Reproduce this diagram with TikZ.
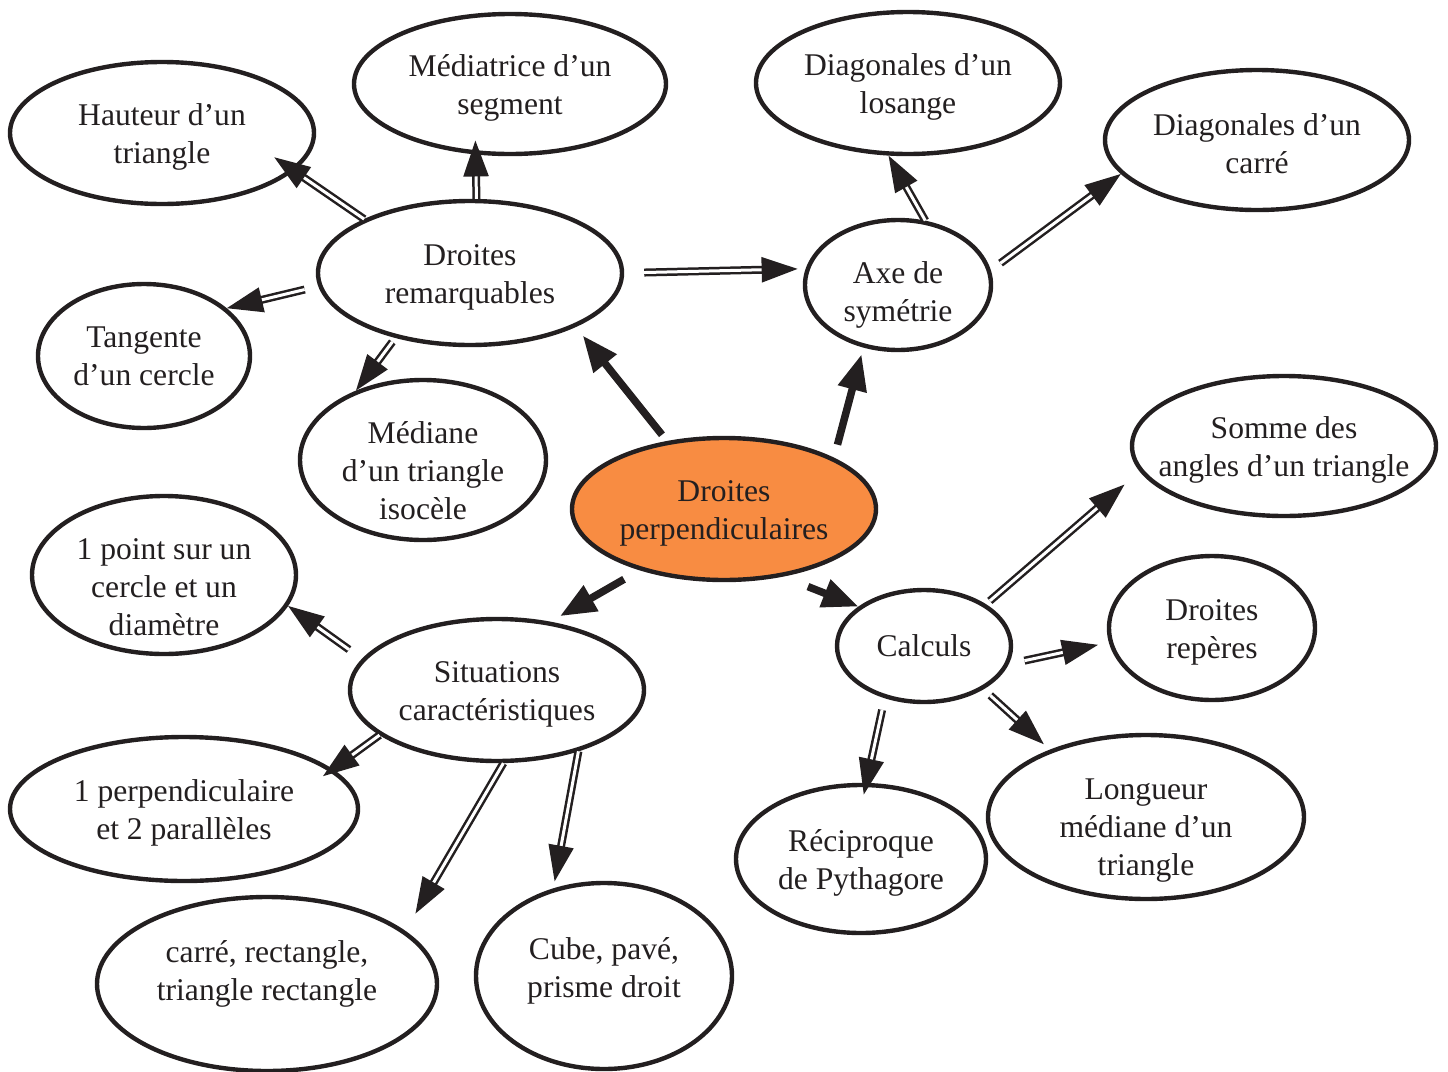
\documentclass[tikz,border=0pt]{standalone}
\usepackage{fontspec}
\setmainfont{Liberation Serif}
\usetikzlibrary{shapes.geometric,arrows.meta}
\definecolor{encre}{RGB}{35,31,32}
\definecolor{orangecarte}{RGB}{248,140,66}
\newcommand{\cale}{\rule{0pt}{15pt}}
\tikzset{
  bulle/.style 2 args={ellipse,draw=encre,line width=2.2pt,inner xsep=-40pt,inner ysep=-40pt,
    align=center,minimum width=#1,minimum height=#2,text=encre,
    font=\fontsize{15.8}{19}\selectfont},
  lien/.style={draw=encre,line width=3.75pt,-{Triangle[length=18pt,width=14pt]}},
  renvoi/.style={draw=encre,double=white,double distance=1.5pt,line width=1.25pt,
    -{Triangle[length=18pt,width=12.5pt]}}
}
\begin{document}
\begin{tikzpicture}[x=0.5pt,y=-0.5pt]
  \useasboundingbox (0,0) rectangle (1448,1072);
  \node[bulle={152pt}{71pt}] (haut) at (162,133) {\cale Hauteur d’un\\triangle};
  \node[bulle={156pt}{70pt}] (mediatrice) at (510,84) {\cale Médiatrice d’un\\segment};
  \node[bulle={152pt}{71pt}] (losange) at (908,83) {\cale Diagonales d’un\\losange};
  \node[bulle={152pt}{70pt}] (carre) at (1257,140) {\cale Diagonales d’un\\carré};
  \node[bulle={152pt}{72pt}] (rem) at (470,273) {\cale Droites\\remarquables};
  \node[bulle={93pt}{65pt}] (axe) at (898,285) {\rule{0pt}{21pt}Axe de\\symétrie};
  \node[bulle={106pt}{72pt}] (tang) at (144,356) {Tangente\\d’un cercle};
  \node[bulle={123pt}{80pt}] (mediane) at (423,460) {\rule{0pt}{22pt}Médiane\\d’un triangle\\isocèle};
  \node[bulle={152pt}{71pt},fill=orangecarte] (perp) at (724,509) {\cale Droites\\perpendiculaires};
  \node[bulle={152pt}{70pt}] (somme) at (1284,446) {\cale Somme des\\angles d’un triangle};
  \node[bulle={132pt}{79pt}] (point) at (164,575) {\rule{0pt}{22.7pt}1 point sur un\\cercle et un\\diamètre};
  \node[bulle={147pt}{71pt}] (sit) at (497,690) {\cale Situations\\caractéristiques};
  \node[bulle={87pt}{56pt}] (calc) at (924,646) {Calculs};
  \node[bulle={103pt}{72pt}] (reperes) at (1212,628) {\cale Droites\\repères};
  \node[bulle={174pt}{72pt}] (para) at (184,809) {\cale 1 perpendiculaire\\et 2 parallèles};
  \node[bulle={125pt}{74pt}] (pyth) at (861,859) {\cale Réciproque\\de Pythagore};
  \node[bulle={158pt}{82pt}] (longueur) at (1146,817) {\rule{0pt}{23.5pt}Longueur\\médiane d’un\\triangle};
  \node[bulle={170pt}{87pt}] (rect) at (267,984) {\cale carré, rectangle,\\triangle rectangle\rule[-17.4pt]{0pt}{17.4pt}};
  \node[bulle={128pt}{93pt}] (cube) at (604,976) {\cale Cube, pavé,\\prisme droit\rule[-12.4pt]{0pt}{12.4pt}};

  \draw[lien,shorten <=4pt,shorten >=5.5pt] (perp.130.5) -- (rem.-27);
  \draw[lien,shorten <=6.75pt,shorten >=3.5pt] (perp.25.9) -- (axe.-119.4);
  \draw[lien,shorten <=9pt,shorten >=5.5pt] (perp.-144.9) -- (sit.52.7);
  \draw[lien,shorten <=13.5pt] (perp.-49.5) -- (calc.149.3);

  \draw[renvoi,shorten >=-12pt] (rem.153) -- (haut.-16.5);
  \draw[renvoi,shorten >=-7pt] (rem.85) -- (mediatrice.-116.5);
  \draw[renvoi,shorten <=10pt,shorten >=4pt] (rem.0) -- (axe.170.4);
  \draw[renvoi,shorten <=7pt] (rem.-175) -- (tang.30.2);
  \draw[renvoi,shorten <=2.5pt] (rem.-139.3) -- (mediane.134.2);
  \draw[renvoi] (axe.67.5) -- (losange.-105.7);
  \draw[renvoi,shorten <=6pt] (axe.9.5) -- (carre.-166.7);
  \draw[renvoi,shorten <=8pt] (sit.167.5) -- (point.-14.6);
  \draw[renvoi,shorten >=-6pt] (sit.-159) -- (para.15.5);
  \draw[renvoi,shorten >=10pt] (sit.-85.7) -- (rect.21);
  \draw[renvoi,shorten >=3.5pt] (sit.-37.6) -- (cube.120.8);
  \draw[renvoi,shorten <=2.5pt,shorten >=10pt] (calc.34.5) -- (somme.-170);
  \draw[renvoi,shorten <=8pt,shorten >=5.5pt] (calc.-12.1) -- (reperes.-172);
  \draw[renvoi,shorten <=4.5pt,shorten >=4pt] (calc.-36.6) -- (longueur.145.8);
  \draw[renvoi,shorten <=6pt,shorten >=-6pt] (calc.-127.6) -- (pyth.86.3);
\end{tikzpicture}
\end{document}
